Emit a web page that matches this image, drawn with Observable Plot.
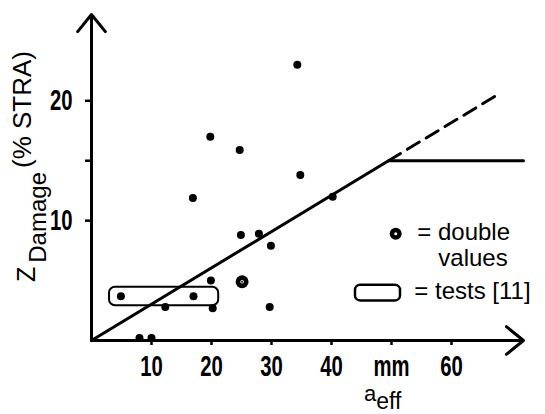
<!DOCTYPE html>
<html><head><meta charset="utf-8">
<script src="https://cdn.jsdelivr.net/npm/d3@7"></script>
<script src="https://cdn.jsdelivr.net/npm/@observablehq/plot@0.6"></script>
<style>
body{margin:0;background:#fff;}
#chart{width:545px;height:414px;}
</style></head><body><div id="chart"></div>
<script>
// ---- data ----
const singleX = [34.3, 19.8, 24.7, 34.8, 16.9, 40.2, 24.9, 27.9, 29.9, 19.9, 4.9, 17.0, 12.3, 20.2, 29.7, 8.0, 10.0];
const singleY = [23.0, 17.0, 15.9, 13.8, 11.9, 12.0, 8.8, 8.9, 7.9, 5.0, 3.7, 3.7, 2.8, 2.7, 2.8, 0.2, 0.2];
const doubleX = [25.1];
const doubleY = [4.9];
const fitX = [0, 49.5, 72];
const fitY = [0, 15, 15];
const trendX = [49.5, 67.5];
const trendY = [15, 20.45];
const testsBoxX = [3.0, 21.2];
const testsBoxY = [2.9, 4.45];
const xTicks = [10, 20, 30, 40, 50, 60];
const xTickLabels = ["10", "20", "30", "40", "mm", "60"];
const yTicks = [10, 15, 20];
const yTickLabels = ["10", "", "20"];
const legendSymbolX = [50.7];
const legendSymbolY = [8.9];
const legendBoxX = [44.0, 51.5];
const legendBoxY = [3.3, 4.6];
const legendTexts = ["= double", "values", "= tests [11]"];
const legendTextX = [54.3, 57.8, 53.8];
const legendTextY = [9.05, 6.85, 4.1];
const xMax = 72, yMax = 27.2;

const pts = singleX.map((x, i) => ({x, y: singleY[i]}));
const dbl = doubleX.map((x, i) => ({x, y: doubleY[i]}));
const fit = fitX.map((x, i) => ({x, y: fitY[i]}));
const trend = trendX.map((x, i) => ({x, y: trendY[i]}));
const legendText = legendTexts.map((t, i) => ({t, x: legendTextX[i], y: legendTextY[i]}));
const legSym = legendSymbolX.map((x, i) => ({x, y: legendSymbolY[i]}));

const tickFont = "'Liberation Sans Narrow', 'Arial Narrow', sans-serif";
const textFont = "'Liberation Sans', Arial, sans-serif";

const svg = Plot.plot({
  width: 545, height: 414,
  marginLeft: 91, marginRight: 22, marginTop: 14, marginBottom: 74,
  x: {domain: [0, xMax]},
  y: {domain: [0, yMax]},
  style: {fontFamily: textFont, background: "white", color: "black"},
  marks: [
    Plot.axisX({ticks: xTicks, tickFormat: d => xTickLabels[xTicks.indexOf(d)], tickSize: 5, tickPadding: 10,
      strokeWidth: 2.5, label: null}),
    Plot.axisY({ticks: yTicks, tickFormat: d => yTickLabels[yTicks.indexOf(d)], tickSize: 6, tickPadding: 13,
      strokeWidth: 2.5, label: null}),
    Plot.arrow([0], {x1: 0, y1: 0, x2: xMax, y2: 0, strokeWidth: 3, headLength: 11, headAngle: 78, stroke: "black"}),
    Plot.arrow([0], {x1: 0, y1: 0, x2: 0, y2: yMax, strokeWidth: 3, headLength: 11, headAngle: 78, stroke: "black"}),
    Plot.rect([0], {x1: testsBoxX[0], x2: testsBoxX[1], y1: testsBoxY[0], y2: testsBoxY[1], rx: 6, fill: "none", stroke: "black", strokeWidth: 2}),
    Plot.dot(pts, {x: "x", y: "y", r: 4, fill: "black", stroke: "none"}),
    Plot.dot(dbl, {x: "x", y: "y", r: 6.5, fill: "black", stroke: "none"}),
    Plot.dot(dbl, {x: "x", y: "y", r: 1.8, fill: "white", stroke: "none"}),
    Plot.dot(dbl, {x: "x", y: "y", r: 0.9, fill: "black", stroke: "none"}),
    Plot.line(fit, {x: "x", y: "y", stroke: "black", strokeWidth: 3}),
    Plot.line(trend, {x: "x", y: "y", stroke: "black", strokeWidth: 3, strokeDasharray: "14,8"}),
    // legend
    Plot.dot(legSym, {x: "x", y: "y", r: 6, fill: "black", stroke: "none"}),
    Plot.dot(legSym, {x: "x", y: "y", r: 1.5, fill: "white", stroke: "none"}),
    Plot.rect([0], {x1: legendBoxX[0], x2: legendBoxX[1], y1: legendBoxY[0], y2: legendBoxY[1], rx: 5, fill: "none", stroke: "black", strokeWidth: 2.5}),
    Plot.text(legendText, {x: "x", y: "y", text: "t", textAnchor: "start", fontSize: 24, fontFamily: textFont, fill: "black"})
  ]
});

// condense the tick labels like the reference's narrow typeface
const SX = 0.7;
const s = d3.select(svg);
s.selectAll('g[aria-label$="tick label"] text').each(function() {
  const t = this.getAttribute("transform") || "";
  const xa = this.getAttribute("x");
  if (xa !== null && xa !== "" && !isNaN(+xa)) this.setAttribute("x", +xa / SX);
  this.setAttribute("transform", t + ` scale(${SX},1)`);
  this.style.fontSize = "29px";
  this.style.fontWeight = "bold";
  this.style.fontFamily = tickFont;
});

// axis titles with sub/superscripts
const yl = s.append("text").attr("transform", "translate(35,282) rotate(-90)")
  .style("text-anchor", "start").style("font-family", textFont).attr("fill", "black");
yl.append("tspan").style("font-size", "25px").text("Z");
yl.append("tspan").style("font-size", "24px").attr("dx", 4).attr("dy", 11).text("Damage");
yl.append("tspan").style("font-size", "26px").attr("dx", 4).attr("dy", -15).text("(% STRA)");
const xl = s.append("text").attr("transform", "translate(364,401)")
  .style("text-anchor", "start").style("font-family", textFont).attr("fill", "black");
xl.append("tspan").style("font-size", "22px").text("a");
xl.append("tspan").style("font-size", "23px").attr("dy", 8).text("eff");

document.getElementById("chart").append(svg);
</script></body></html>
